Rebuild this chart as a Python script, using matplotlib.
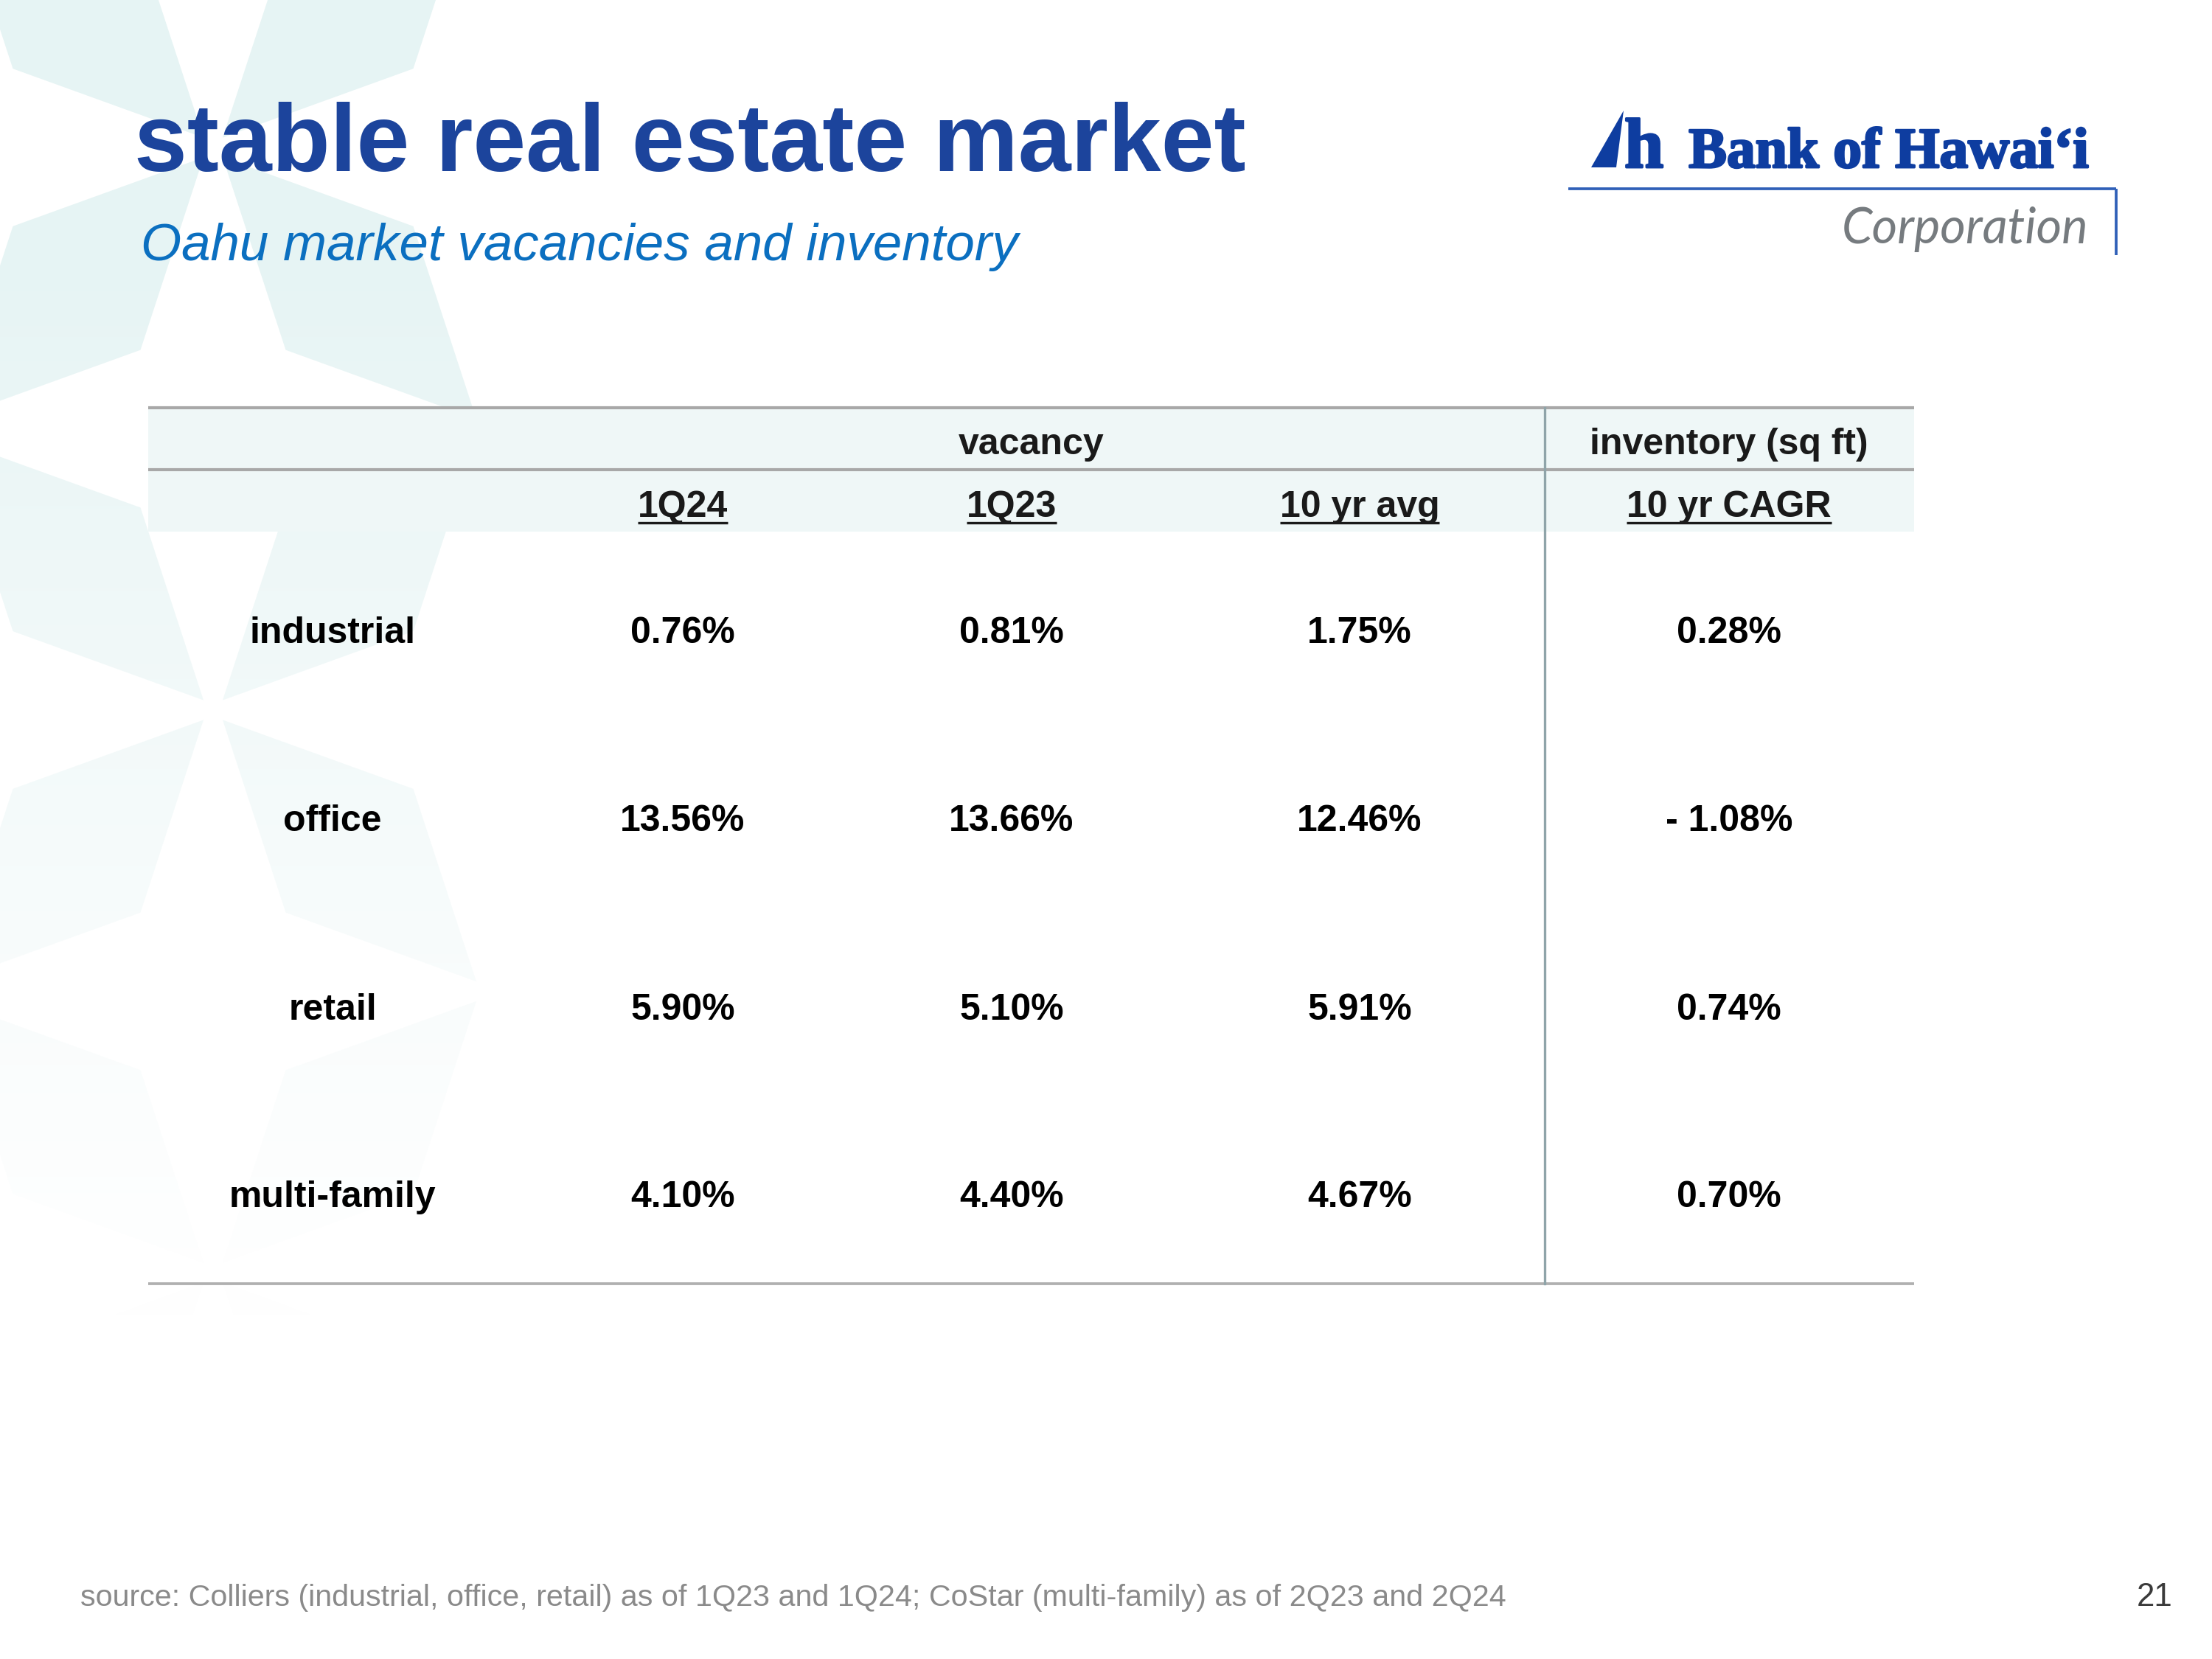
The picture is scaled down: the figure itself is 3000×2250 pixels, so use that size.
import numpy as np
import matplotlib
matplotlib.use("Agg")
import matplotlib.pyplot as plt
import matplotlib.patheffects as pe
from matplotlib.patches import Polygon, Rectangle, PathPatch
from matplotlib.path import Path

# data
categories = ["industrial", "office", "retail", "multi-family"]
col_headers = ["1Q24", "1Q23", "10 yr avg", "10 yr CAGR"]
group_headers = ["vacancy", "inventory (sq ft)"]
vac_1q24 = [0.76, 13.56, 5.90, 4.10]
vac_1q23 = [0.81, 13.66, 5.10, 4.40]
vac_10yr = [1.75, 12.46, 5.91, 4.67]
inv_cagr = [0.28, -1.08, 0.74, 0.70]

title = "stable real estate market"
subtitle = "Oahu market vacancies and inventory"
source = ("source: Colliers (industrial, office, retail) as of 1Q23 and 1Q24; "
          "CoStar (multi-family) as of 2Q23 and 2Q24")
page_no = "21"


def fmt(v):
    if v < 0:
        return "- {:.2f}%".format(abs(v))
    return "{:.2f}%".format(v)


W, H = 3000, 2250
fig = plt.figure(figsize=(10, 7.5), dpi=300)
ax = fig.add_axes([0, 0, 1, 1])
ax.set_xlim(0, W)
ax.set_ylim(H, 0)
ax.axis("off")

SANS = "Liberation Sans"

# background motif: lattice of rhombus petals, fading towards the bottom
x0, y0, dx, dy = 289, 200, 370, 381.5
centers = {}
for i in (-1, 0, 1):
    for j in range(-1, 6):
        if (i + j) % 2 == 0:
            centers[(i, j)] = np.array([x0 + dx * i, y0 + dy * j])
verts, codes = [], []
for (i, j), a in centers.items():
    for di, dj in ((1, 1), (1, -1)):
        b = centers.get((i + di, j + dj))
        if b is None:
            continue
        mid = (a + b) / 2
        d = b - a
        perp = np.array([-d[1], d[0]]) / np.hypot(*d)
        h = np.hypot(*d) / 2 * np.tan(np.deg2rad(26))
        quad = np.array([a, mid + perp * h, b, mid - perp * h])
        quad = mid + (quad - mid) * 0.93
        verts += list(quad) + [quad[0]]
        codes += [Path.MOVETO, Path.LINETO, Path.LINETO, Path.LINETO, Path.CLOSEPOLY]
motif = PathPatch(Path(verts, codes), fc="none", ec="none", transform=ax.transData)
ax.add_patch(motif)
yy = np.linspace(0, H, 400)
alpha = np.clip((1800 - yy) / 1450, 0, 1) ** 1.2
grad = np.zeros((400, 2, 4))
grad[..., 0], grad[..., 1], grad[..., 2] = 0.905, 0.957, 0.96
grad[..., 3] = alpha[:, None]
im = ax.imshow(grad, extent=(0, W, H, 0), aspect="auto", zorder=0, interpolation="bilinear")
im.set_clip_path(motif)
ax.set_xlim(0, W)
ax.set_ylim(H, 0)

# title block
ax.text(182, 232, title, fontsize=31, fontweight="bold", color="#1C449C",
        family=SANS, ha="left", va="baseline")
ax.text(191, 353, subtitle, fontsize=17, style="italic", color="#0B6FC0",
        family=SANS, ha="left", va="baseline")

# logo
LOGO = "#0E3DA0"
thick = [pe.withStroke(linewidth=0.7, foreground=LOGO)]
ax.add_patch(Polygon([(2158, 227), (2192, 227), (2202, 150)], closed=True,
                     fc=LOGO, ec="none", zorder=3))
ax.text(2203, 227, "h", fontsize=23, fontweight="bold", color=LOGO,
        family="Liberation Serif", ha="left", va="baseline", path_effects=thick)
ax.text(2833, 227, "Bank of Hawai\u2018i", fontsize=18.6, fontweight="bold", color=LOGO,
        family="Liberation Serif", ha="right", va="baseline", path_effects=thick)
ax.plot([2127, 2870], [256, 256], color="#3060B8", lw=0.9, solid_capstyle="butt")
ax.plot([2870, 2870], [256, 346], color="#3060B8", lw=0.9, solid_capstyle="butt")
ax.text(2832, 330, "Corporation", fontsize=16, style="italic", color="#767B7F",
        family="Lato", ha="right", va="baseline")

# table geometry
x_left, x_right, x_div = 201, 2596, 2095
y_top, y_mid, y_hdr, y_bot = 553, 637, 721, 1741
label_x = 451
col_x = [926, 1372, 1844, 2345]
row_y = [859, 1114, 1370, 1624]

ax.add_patch(Rectangle((x_left, y_top), x_right - x_left, y_hdr - y_top,
                       fc="#EFF7F7", ec="none", zorder=1))
for yl in (y_top, y_mid):
    ax.plot([x_left, x_right], [yl, yl], color="#A8A8A8", lw=1.0, zorder=2,
            solid_capstyle="butt")
ax.plot([x_left, x_right], [y_bot, y_bot], color="#B0B0B0", lw=0.9, zorder=2,
        solid_capstyle="butt")
ax.plot([x_div, x_div], [y_top, y_bot], color="#8FA4A9", lw=0.8, zorder=2)

FS = 12
ax.text((x_left + x_right) / 2, (y_top + y_mid) / 2 + 8, group_headers[0], fontsize=FS,
        fontweight="bold", color="#1A1A1A", family=SANS, ha="center", va="center", zorder=3)
ax.text(col_x[3], (y_top + y_mid) / 2 + 8, group_headers[1], fontsize=FS,
        fontweight="bold", color="#1A1A1A", family=SANS, ha="center", va="center", zorder=3)

hdr_texts = []
for x, lab in zip(col_x, col_headers):
    t = ax.text(x, 701, lab, fontsize=FS, fontweight="bold", color="#1A1A1A",
                family=SANS, ha="center", va="baseline", zorder=3)
    hdr_texts.append(t)

# underline the column headers
fig.canvas.draw()
r = fig.canvas.get_renderer()
for t in hdr_texts:
    bb = t.get_window_extent(renderer=r)
    ax.plot([bb.x0, bb.x1], [709, 709], color="#1A1A1A", lw=0.8, zorder=3,
            solid_capstyle="butt")

columns = [vac_1q24, vac_1q23, vac_10yr, inv_cagr]
for i, cat in enumerate(categories):
    ax.text(label_x, row_y[i], cat, fontsize=FS, fontweight="bold", color="black",
            family=SANS, ha="center", va="center", zorder=3)
    for x, col in zip(col_x, columns):
        ax.text(x, row_y[i], fmt(col[i]), fontsize=FS, fontweight="bold", color="black",
                family=SANS, ha="center", va="center", zorder=3)

# footer
ax.text(109, 2178, source, fontsize=9.9, color="#8A8A8A", family=SANS,
        ha="left", va="baseline")
ax.text(2946, 2178, page_no, fontsize=10.5, color="#3A3A3A", family=SANS,
        ha="right", va="baseline")

fig.savefig("out.png", dpi=300, facecolor="white")
